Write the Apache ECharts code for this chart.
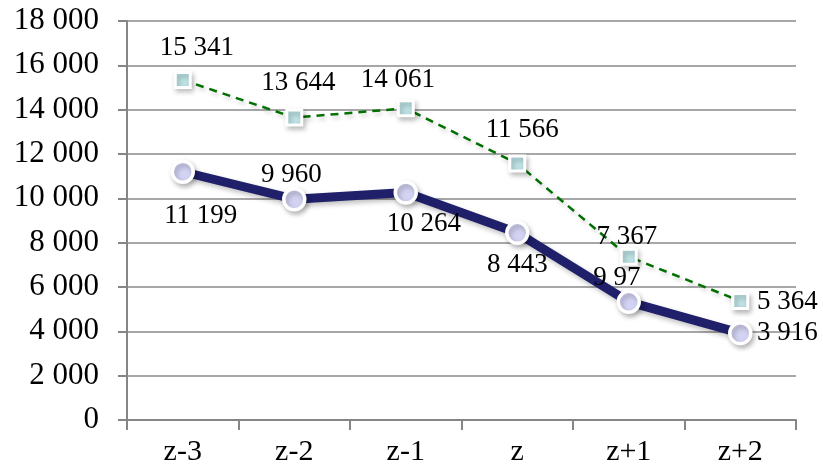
<!DOCTYPE html>
<html>
<head>
<meta charset="utf-8">
<script src="https://cdn.jsdelivr.net/npm/echarts@6/dist/echarts.min.js"></script>
<style>
html,body{margin:0;padding:0;background:#fff;}
#chart{width:823px;height:471px;}
</style>
</head>
<body>
<div id="chart"></div>
<script>
var categories = ['z-3', 'z-2', 'z-1', 'z', 'z+1', 'z+2'];
var seriesSolid = [11199, 9960, 10264, 8443, 5330, 3916];
var seriesSolidLabels = ['11 199', '9 960', '10 264', '8 443', '9 97', '3 916'];
var seriesDashed = [15341, 13644, 14061, 11566, 7367, 5364];
var seriesDashedLabels = ['15 341', '13 644', '14 061', '11 566', '7 367', '5 364'];
var yTicks = [0, 2000, 4000, 6000, 8000, 10000, 12000, 14000, 16000, 18000];

var solidOffsets = [[18, 44], [-3, -24], [18, 31], [0, 32], [-12, -24], [47, 0]];
var dashedOffsets = [[14, -32], [4, -35], [-8, -28], [5, -34], [-2, -20], [47, 1]];

function fmt(v) {
  return String(v).replace(/\B(?=(\d{3})+(?!\d))/g, ' ');
}

var FONT = '"Liberation Serif", "Times New Roman", serif';

function buildData(values, labels, offsets) {
  return values.map(function (v, i) {
    return {
      value: v,
      label: {
        show: true,
        position: 'inside',
        offset: offsets[i],
        formatter: labels[i],
        fontFamily: FONT,
        fontSize: 27,
        color: '#000'
      }
    };
  });
}

var chart = echarts.init(document.getElementById('chart'), null, {renderer: 'canvas'});
chart.setOption({
  animation: false,
  backgroundColor: '#fff',
  grid: {left: 127, right: 27, top: 21, bottom: 51, containLabel: false},
  xAxis: {
    type: 'category',
    data: categories,
    boundaryGap: true,
    axisLine: {show: true, lineStyle: {color: '#868686', width: 2}},
    axisTick: {show: true, length: 10, lineStyle: {color: '#868686', width: 2}},
    axisLabel: {fontFamily: FONT, fontSize: 30, color: '#000', margin: 17},
    splitLine: {show: false}
  },
  yAxis: {
    type: 'value',
    min: yTicks[0],
    max: yTicks[yTicks.length - 1],
    interval: 2000,
    axisLine: {show: true, lineStyle: {color: '#868686', width: 2}},
    axisTick: {show: true, length: 9, lineStyle: {color: '#868686', width: 2}},
    axisLabel: {fontFamily: FONT, fontSize: 31, color: '#000', margin: 28, formatter: fmt},
    splitLine: {show: true, lineStyle: {color: '#8a8a8a', width: 1.6}}
  },
  series: [
    {
      type: 'line',
      data: buildData(seriesDashed, seriesDashedLabels, dashedOffsets),
      symbol: 'rect',
      symbolSize: 15,
      z: 2,
      lineStyle: {color: '#007000', width: 2.5, type: [8, 6],
        shadowColor: 'rgba(0,0,0,0.2)', shadowBlur: 4, shadowOffsetX: 2, shadowOffsetY: 3},
      itemStyle: {color: '#BDE2E4', borderColor: '#fff', borderWidth: 3,
        shadowColor: 'rgba(0,0,0,0.25)', shadowBlur: 5, shadowOffsetX: 2, shadowOffsetY: 3}
    },
    {
      type: 'line',
      data: buildData(seriesSolid, seriesSolidLabels, solidOffsets),
      symbol: 'circle',
      symbolSize: 21,
      z: 3,
      lineStyle: {color: '#1F1F6A', width: 9,
        shadowColor: 'rgba(0,0,0,0.25)', shadowBlur: 5, shadowOffsetX: 2, shadowOffsetY: 3},
      itemStyle: {color: '#D2D2F2', borderColor: '#fff', borderWidth: 3.5,
        shadowColor: 'rgba(0,0,0,0.25)', shadowBlur: 5, shadowOffsetX: 2, shadowOffsetY: 3}
    }
  ]
});
</script>
</body>
</html>
